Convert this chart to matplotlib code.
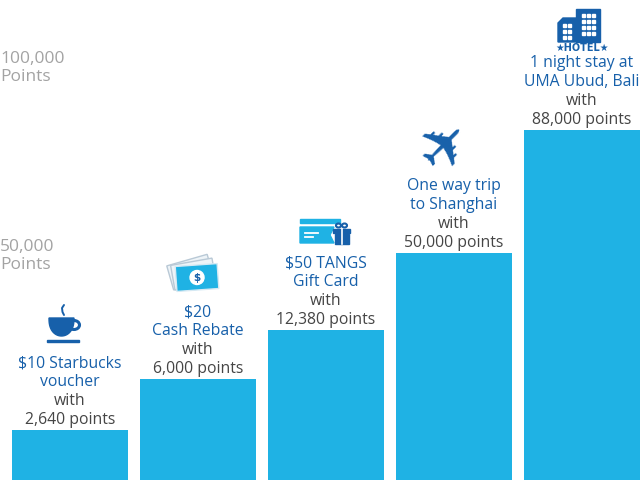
import numpy as np
import matplotlib
matplotlib.use("Agg")
import matplotlib.pyplot as plt
from matplotlib import patches
from matplotlib.transforms import Affine2D

# rewards, left to right
titles = ["$10 Starbucks\nvoucher", "$20\nCash Rebate", "$50 TANGS\nGift Card",
          "One way trip\nto Shanghai", "1 night stay at\nUMA Ubud, Bali"]
points = [2640, 6000, 12380, 50000, 88000]
# drawn bar heights (the chart is schematic, not to scale)
bar_heights = [50, 101, 150, 227, 350]
# y-axis captions and the heights they sit at
axis_labels = ["50,000\nPoints", "100,000\nPoints"]
axis_label_heights = [211, 399]

BAR = "#1fb2e4"
DARK = "#1760aa"
GREY = "#454545"
AXIS = "#a3a3a3"
FONT = "Open Sans"
FS = 11.3

fig = plt.figure(figsize=(6.4, 4.9), dpi=100)
ax = fig.add_axes([0, 10 / 490, 1, 480 / 490])
ax.set_xlim(-70 / 128, 570 / 128)
ax.set_ylim(0, 480)
ax.axis("off")

x = np.arange(len(points))
ax.bar(x, bar_heights, width=116 / 128, color=BAR)

px = 100 / 72  # pixels per point
ls = 19 / (FS * px)
for xi, h, t, p in zip(x, bar_heights, titles, points):
    ax.annotate(f"with\n{p:,} points", (xi, h), xytext=(0, 6 / px), textcoords="offset points",
                ha="center", va="baseline", fontsize=FS, color=GREY, family=FONT,
                linespacing=ls, multialignment="center")
    ax.annotate(t, (xi, h), xytext=(0, 44 / px), textcoords="offset points",
                ha="center", va="baseline", fontsize=FS, color=DARK, family=FONT,
                linespacing=ls, multialignment="center")

for lab, h in zip(axis_labels, axis_label_heights):
    ax.text(-70 / 128 + 0.002, h, lab, ha="left", va="baseline", fontsize=12.5,
            color=AXIS, family=FONT, linespacing=1.2)

# icons drawn in pixel space on an overlay
deco = fig.add_axes([0, 0, 1, 1], zorder=3)
deco.set_xlim(0, 640)
deco.set_ylim(490, 0)
deco.axis("off")

# coffee cup
t = np.linspace(0, np.pi, 40)
cup = np.column_stack([61.5 + 12.5 * np.cos(t), 318 + 18 * np.sin(t) ** 0.8])
deco.add_patch(patches.Polygon(cup, color=DARK))
deco.add_patch(patches.Ellipse((74, 325), 11, 9, fill=False, ec=DARK, lw=2.2))
deco.add_patch(patches.Rectangle((47, 339.5), 32, 2.5, color=DARK))
deco.plot([64, 62, 62.5, 64], [305, 308, 312, 315], color=DARK, lw=1.4, solid_capstyle="round")

# cash notes
for ang, dx, dy in [(-16, -4, -6), (-10, -2, -3)]:
    tr = Affine2D().rotate_deg_around(197, 277, ang) + deco.transData
    deco.add_patch(patches.Rectangle((175 + dx, 264 + dy), 42, 25, fc="#eef4f8", ec="#b9c9d6", lw=1, transform=tr))
tr = Affine2D().rotate_deg_around(197, 277, -4) + deco.transData
deco.add_patch(patches.Rectangle((176, 265), 42, 25, fc=BAR, ec="#d6e9f3", lw=1, transform=tr))
deco.add_patch(patches.Circle((197, 277.5), 7, color="white", transform=tr))
deco.text(197, 278, "$", ha="center", va="center", fontsize=7.5, fontweight="bold", color=DARK, family="DejaVu Sans")

# gift card
deco.add_patch(patches.Rectangle((300, 219), 40, 4, color=BAR))
deco.add_patch(patches.Polygon([(300, 227), (334, 227), (330, 235), (334, 243), (300, 243)], color=BAR))
deco.plot([305, 318], [233, 233], color="white", lw=1.3)
deco.plot([305, 313], [237, 237], color="white", lw=1.3)
deco.add_patch(patches.Rectangle((333, 229), 17, 4, color=DARK))
deco.add_patch(patches.Rectangle((334.5, 234), 14, 10, color=DARK))
deco.plot([341.5, 341.5], [229, 244], color="white", lw=1.2)
deco.add_patch(patches.Ellipse((338.5, 225.5), 5, 4, fill=False, ec=DARK, lw=1.5))
deco.add_patch(patches.Ellipse((344.5, 225.5), 5, 4, fill=False, ec=DARK, lw=1.5))

# plane
deco.text(447, 147, "\u2708", ha="center", va="center", fontsize=44, color=DARK,
          family="DejaVu Sans", rotation=45)

# hotel
deco.add_patch(patches.Polygon([(558, 42), (558, 23), (563, 18), (578, 18), (578, 42)], color=DARK))
deco.add_patch(patches.Rectangle((576, 9), 24, 33, color=DARK))
for cx in [582, 587, 592]:
    for cy in [14, 20, 26, 32]:
        deco.add_patch(patches.Rectangle((cx, cy), 3, 3, color="white"))
for cx in [563, 568]:
    for cy in [24, 30, 36]:
        deco.add_patch(patches.Rectangle((cx, cy), 3, 3, color="white"))
deco.text(582, 47.5, "\u2605HOTEL\u2605", ha="center", va="center", fontsize=7,
          fontweight="bold", color=DARK, family="DejaVu Sans Condensed")

fig.savefig("out.png", dpi=100)
